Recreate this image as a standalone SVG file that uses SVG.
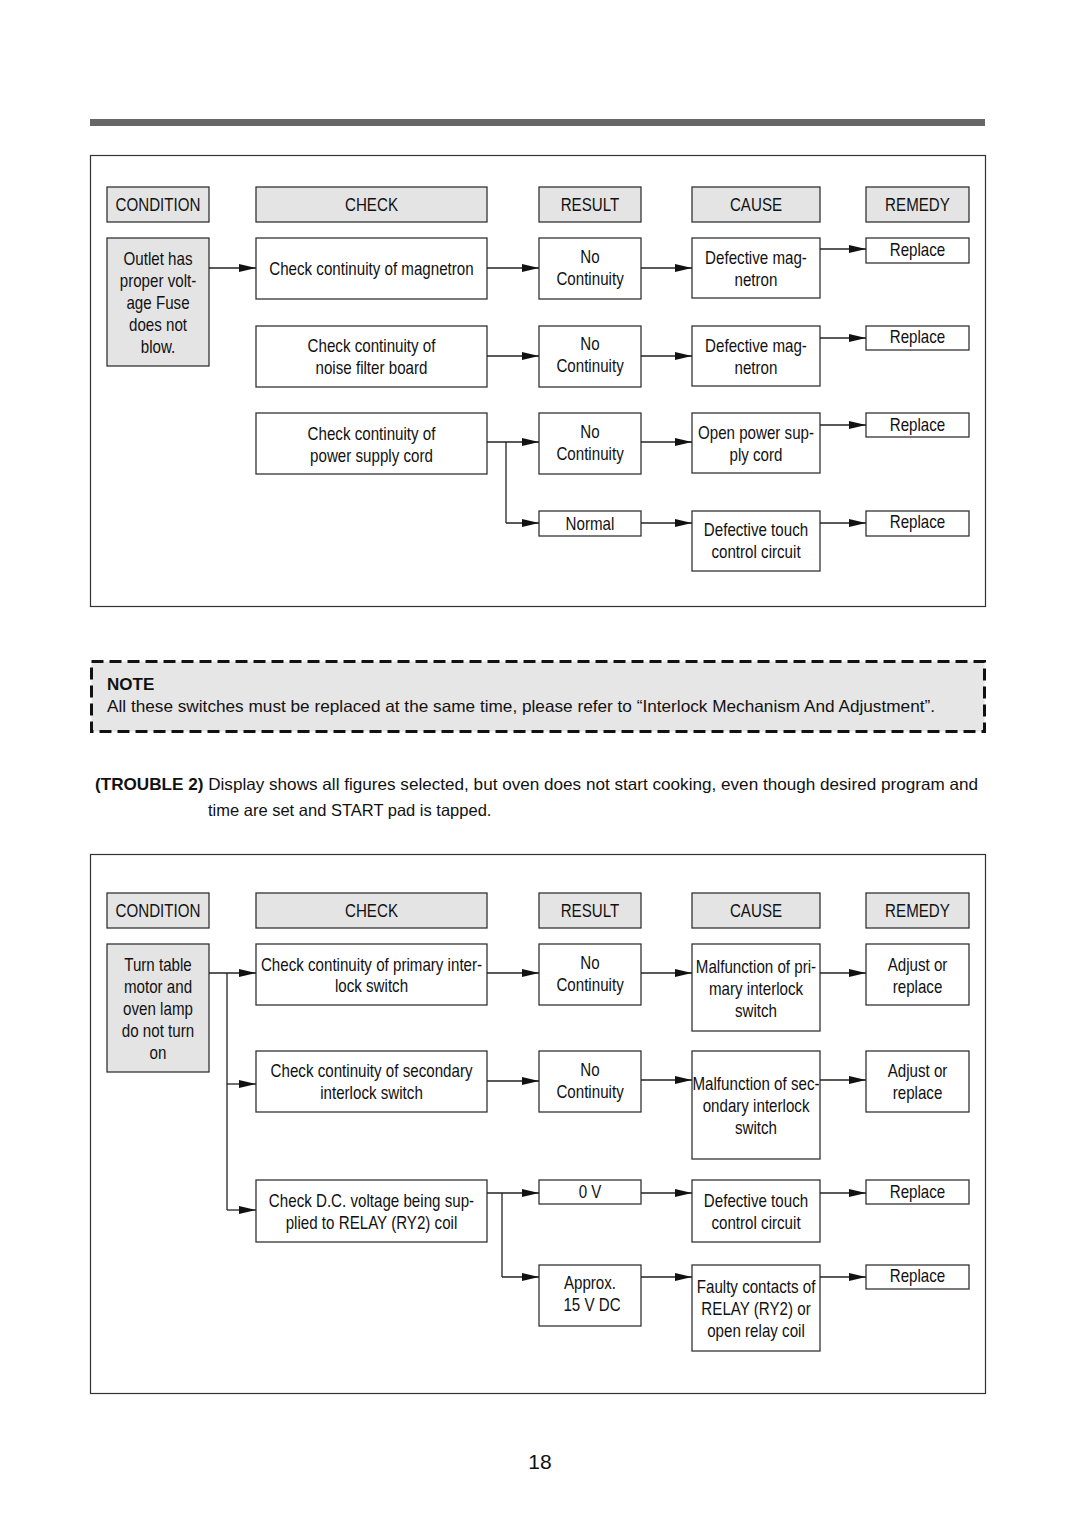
<svg xmlns="http://www.w3.org/2000/svg" width="1080" height="1528" viewBox="0 0 1080 1528">
<style>
.box{fill:#fff;stroke:#333;stroke-width:1.3}
.gbox{fill:#e4e4e4;stroke:#333;stroke-width:1.3}
.t{font-family:"Liberation Sans",Arial,sans-serif;font-size:17.5px;text-anchor:middle;fill:#111;transform-box:fill-box;transform-origin:center;transform:scaleX(0.865)}
.c{fill:none;stroke:#222;stroke-width:1.3}
.a{fill:none;stroke:#222;stroke-width:1.3;marker-end:url(#ah)}
.body{font-family:"Liberation Sans",Arial,sans-serif;font-size:16.5px;fill:#111}
</style>
<defs>
<marker id="ah" markerWidth="17" markerHeight="9" refX="17" refY="4.5" orient="auto" markerUnits="userSpaceOnUse">
<path d="M0,0.5 L17,4.5 L0,8.5 z" fill="#111"/>
</marker>
</defs>
<rect width="1080" height="1528" fill="#fff"/>
<rect x="90" y="119" width="895" height="7" fill="#666"/>

<!-- Panel 1 -->
<rect x="90.5" y="155.5" width="895" height="451" fill="none" stroke="#333" stroke-width="1.2"/>
<g id="p1-headers">
<rect class="gbox" x="107" y="187" width="102" height="35"/><text class="t" x="158" y="211">CONDITION</text>
<rect class="gbox" x="256" y="187" width="231" height="35"/><text class="t" x="371.5" y="211">CHECK</text>
<rect class="gbox" x="539" y="187" width="102" height="35"/><text class="t" x="590" y="211">RESULT</text>
<rect class="gbox" x="692" y="187" width="128" height="35"/><text class="t" x="756" y="211">CAUSE</text>
<rect class="gbox" x="866" y="187" width="103" height="35"/><text class="t" x="917.5" y="211">REMEDY</text>
</g>
<g id="p1-condition"><rect class="gbox" x="107" y="238" width="102" height="128"/>
<text class="t" x="158" y="265">Outlet has</text><text class="t" x="158" y="287">proper volt-</text><text class="t" x="158" y="309">age Fuse</text><text class="t" x="158" y="331">does not</text><text class="t" x="158" y="353">blow.</text></g>
<g id="p1-check1"><rect class="box" x="256" y="238" width="231" height="61"/><text class="t" x="371.5" y="275">Check continuity of magnetron</text></g>
<g id="p1-check2"><rect class="box" x="256" y="326" width="231" height="61"/><text class="t" x="371.5" y="352">Check continuity of</text><text class="t" x="371.5" y="374">noise filter board</text></g>
<g id="p1-check3"><rect class="box" x="256" y="413" width="231" height="61"/><text class="t" x="371.5" y="440">Check continuity of</text><text class="t" x="371.5" y="462">power supply cord</text></g>
<g id="p1-result1"><rect class="box" x="539" y="238" width="102" height="61"/><text class="t" x="590" y="263">No</text><text class="t" x="590" y="285">Continuity</text></g>
<g id="p1-result2"><rect class="box" x="539" y="326" width="102" height="61"/><text class="t" x="590" y="350">No</text><text class="t" x="590" y="372">Continuity</text></g>
<g id="p1-result3"><rect class="box" x="539" y="413" width="102" height="61"/><text class="t" x="590" y="438">No</text><text class="t" x="590" y="460">Continuity</text></g>
<g id="p1-result4"><rect class="box" x="539" y="511" width="102" height="25"/><text class="t" x="590" y="530">Normal</text></g>
<g id="p1-cause1"><rect class="box" x="692" y="238" width="128" height="60"/><text class="t" x="756" y="264">Defective mag-</text><text class="t" x="756" y="286">netron</text></g>
<g id="p1-cause2"><rect class="box" x="692" y="326" width="128" height="60"/><text class="t" x="756" y="352">Defective mag-</text><text class="t" x="756" y="374">netron</text></g>
<g id="p1-cause3"><rect class="box" x="692" y="413" width="128" height="60"/><text class="t" x="756" y="439">Open power sup-</text><text class="t" x="756" y="461">ply cord</text></g>
<g id="p1-cause4"><rect class="box" x="692" y="511" width="128" height="60"/><text class="t" x="756" y="536">Defective touch</text><text class="t" x="756" y="558">control circuit</text></g>
<g id="p1-remedy1"><rect class="box" x="866" y="238" width="103" height="25"/><text class="t" x="917.5" y="256">Replace</text></g>
<g id="p1-remedy2"><rect class="box" x="866" y="326" width="103" height="24"/><text class="t" x="917.5" y="343">Replace</text></g>
<g id="p1-remedy3"><rect class="box" x="866" y="413" width="103" height="24"/><text class="t" x="917.5" y="431">Replace</text></g>
<g id="p1-remedy4"><rect class="box" x="866" y="511" width="103" height="25"/><text class="t" x="917.5" y="528">Replace</text></g>
<g id="p1-connectors">
<path class="a" d="M209,268 H256"/>
<path class="a" d="M487,268 H539"/>
<path class="a" d="M641,268 H692"/>
<path class="a" d="M820,249 H866"/>
<path class="a" d="M487,356 H539"/>
<path class="a" d="M641,356 H692"/>
<path class="a" d="M820,338 H866"/>
<path class="a" d="M487,442 H539"/>
<path class="c" d="M506,442 V523"/>
<path class="a" d="M506,523 H539"/>
<path class="a" d="M641,442 H692"/>
<path class="a" d="M820,425 H866"/>
<path class="a" d="M641,523 H692"/>
<path class="a" d="M820,523 H866"/>
</g>

<!-- Note -->
<g id="note">
<rect x="91.5" y="661.5" width="893" height="70" fill="#e6e6e6" stroke="#111" stroke-width="3" stroke-dasharray="12,6"/>
<text x="107" y="690" font-family="Liberation Sans,Arial,sans-serif" font-size="17" font-weight="bold" fill="#111">NOTE</text>
<text class="body" x="107" y="712" textLength="828" lengthAdjust="spacingAndGlyphs">All these switches must be replaced at the same time, please refer to “Interlock Mechanism And Adjustment”.</text>
</g>

<!-- Trouble 2 -->
<text class="body" x="95" y="790" textLength="883" lengthAdjust="spacingAndGlyphs"><tspan font-weight="bold">(TROUBLE 2)</tspan> Display shows all figures selected, but oven does not start cooking, even though desired program and</text>
<text class="body" x="208" y="816">time are set and START pad is tapped.</text>

<!-- Panel 2 -->
<rect x="90.5" y="854.5" width="895" height="539" fill="none" stroke="#333" stroke-width="1.2"/>
<g id="p2-headers">
<rect class="gbox" x="107" y="893" width="102" height="35"/><text class="t" x="158" y="917">CONDITION</text>
<rect class="gbox" x="256" y="893" width="231" height="35"/><text class="t" x="371.5" y="917">CHECK</text>
<rect class="gbox" x="539" y="893" width="102" height="35"/><text class="t" x="590" y="917">RESULT</text>
<rect class="gbox" x="692" y="893" width="128" height="35"/><text class="t" x="756" y="917">CAUSE</text>
<rect class="gbox" x="866" y="893" width="103" height="35"/><text class="t" x="917.5" y="917">REMEDY</text>
</g>
<g id="p2-condition"><rect class="gbox" x="107" y="944" width="102" height="128"/>
<text class="t" x="158" y="971">Turn table</text><text class="t" x="158" y="993">motor and</text><text class="t" x="158" y="1015">oven lamp</text><text class="t" x="158" y="1037">do not turn</text><text class="t" x="158" y="1059">on</text></g>
<g id="p2-check1"><rect class="box" x="256" y="944" width="231" height="61"/><text class="t" x="371.5" y="971">Check continuity of primary inter-</text><text class="t" x="371.5" y="992">lock switch</text></g>
<g id="p2-check2"><rect class="box" x="256" y="1051" width="231" height="61"/><text class="t" x="371.5" y="1077">Check continuity of secondary</text><text class="t" x="371.5" y="1099">interlock switch</text></g>
<g id="p2-check3"><rect class="box" x="256" y="1180" width="231" height="62"/><text class="t" x="371.5" y="1207">Check D.C. voltage being sup-</text><text class="t" x="371.5" y="1229">plied to RELAY (RY2) coil</text></g>
<g id="p2-result1"><rect class="box" x="539" y="944" width="102" height="61"/><text class="t" x="590" y="969">No</text><text class="t" x="590" y="991">Continuity</text></g>
<g id="p2-result2"><rect class="box" x="539" y="1051" width="102" height="61"/><text class="t" x="590" y="1076">No</text><text class="t" x="590" y="1098">Continuity</text></g>
<g id="p2-result3"><rect class="box" x="539" y="1180" width="102" height="24"/><text class="t" x="590" y="1198">0 V</text></g>
<g id="p2-result4"><rect class="box" x="539" y="1265" width="102" height="61"/><text class="t" x="590" y="1289">Approx.</text><text class="t" x="592" y="1311">15 V DC</text></g>
<g id="p2-cause1"><rect class="box" x="692" y="944" width="128" height="87"/><text class="t" x="756" y="973">Malfunction of pri-</text><text class="t" x="756" y="995">mary interlock</text><text class="t" x="756" y="1017">switch</text></g>
<g id="p2-cause2"><rect class="box" x="692" y="1051" width="128" height="108"/><text class="t" x="756" y="1090">Malfunction of sec-</text><text class="t" x="756" y="1112">ondary interlock</text><text class="t" x="756" y="1134">switch</text></g>
<g id="p2-cause3"><rect class="box" x="692" y="1180" width="128" height="62"/><text class="t" x="756" y="1207">Defective touch</text><text class="t" x="756" y="1229">control circuit</text></g>
<g id="p2-cause4"><rect class="box" x="692" y="1265" width="128" height="86"/><text class="t" x="756" y="1293">Faulty contacts of</text><text class="t" x="756" y="1315">RELAY (RY2) or</text><text class="t" x="756" y="1337">open relay coil</text></g>
<g id="p2-remedy1"><rect class="box" x="866" y="944" width="103" height="61"/><text class="t" x="917.5" y="971">Adjust or</text><text class="t" x="917.5" y="993">replace</text></g>
<g id="p2-remedy2"><rect class="box" x="866" y="1051" width="103" height="61"/><text class="t" x="917.5" y="1077">Adjust or</text><text class="t" x="917.5" y="1099">replace</text></g>
<g id="p2-remedy3"><rect class="box" x="866" y="1180" width="103" height="24"/><text class="t" x="917.5" y="1198">Replace</text></g>
<g id="p2-remedy4"><rect class="box" x="866" y="1265" width="103" height="24"/><text class="t" x="917.5" y="1282">Replace</text></g>
<g id="p2-connectors">
<path class="a" d="M209,973 H256"/>
<path class="c" d="M227,973 V1210"/>
<path class="a" d="M227,1084 H256"/>
<path class="a" d="M227,1210 H256"/>
<path class="a" d="M487,973 H539"/>
<path class="a" d="M641,973 H692"/>
<path class="a" d="M820,973 H866"/>
<path class="a" d="M487,1081 H539"/>
<path class="a" d="M641,1080 H692"/>
<path class="a" d="M820,1080 H866"/>
<path class="a" d="M487,1193 H539"/>
<path class="c" d="M502,1193 V1277"/>
<path class="a" d="M502,1277 H539"/>
<path class="a" d="M641,1193 H692"/>
<path class="a" d="M820,1193 H866"/>
<path class="a" d="M641,1277 H692"/>
<path class="a" d="M820,1277 H866"/>
</g>

<text x="540" y="1469" font-family="Liberation Sans,Arial,sans-serif" font-size="21" text-anchor="middle" fill="#111">18</text>
</svg>
